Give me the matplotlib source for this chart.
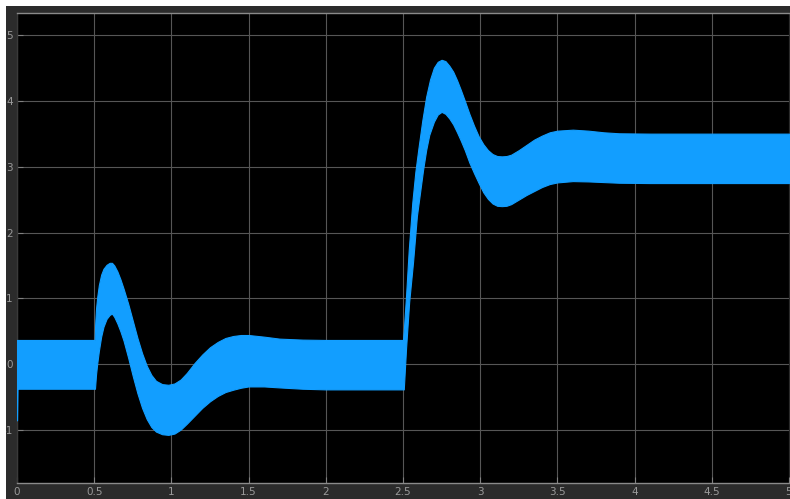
import matplotlib
matplotlib.use("Agg")
import matplotlib.pyplot as plt
import numpy as np
from matplotlib.patches import Rectangle

# ── Envelope of the fast-switching signal ────────────────────────────────────
t_upper = [0.0, 0.503, 0.506, 0.512, 0.520, 0.530, 0.545, 0.560, 0.580, 0.600,
           0.615, 0.630, 0.650, 0.670, 0.690, 0.720, 0.750, 0.780, 0.810, 0.840,
           0.870, 0.900, 0.940, 0.980, 1.020, 1.060, 1.100, 1.150, 1.200, 1.250,
           1.300, 1.350, 1.400, 1.450, 1.500, 1.600, 1.700, 1.850, 2.000, 2.500,
           2.506, 2.520, 2.537, 2.560, 2.580, 2.600, 2.625, 2.650, 2.675, 2.700,
           2.725, 2.750, 2.775, 2.800, 2.825, 2.850, 2.875, 2.900, 2.930, 2.960,
           2.990, 3.020, 3.050, 3.080, 3.110, 3.140, 3.170, 3.200, 3.250, 3.300,
           3.350, 3.400, 3.450, 3.500, 3.600, 3.700, 3.800, 3.900, 4.100, 5.000]
v_upper = [0.37, 0.37, 0.60, 0.85, 1.03, 1.20, 1.36, 1.45, 1.51, 1.54,
           1.54, 1.50, 1.41, 1.29, 1.15, 0.92, 0.66, 0.40, 0.17, -0.02,
           -0.16, -0.25, -0.30, -0.31, -0.29, -0.23, -0.13, 0.02, 0.15, 0.26,
           0.34, 0.40, 0.43, 0.445, 0.445, 0.42, 0.39, 0.375, 0.37, 0.37,
           0.55, 1.05, 1.73, 2.45, 2.92, 3.28, 3.70, 4.06, 4.32, 4.50,
           4.59, 4.62, 4.60, 4.53, 4.44, 4.31, 4.16, 4.00, 3.80, 3.62,
           3.46, 3.34, 3.25, 3.19, 3.16, 3.155, 3.16, 3.18, 3.25, 3.33,
           3.41, 3.47, 3.52, 3.545, 3.56, 3.545, 3.52, 3.505, 3.50, 3.50]

t_lower = [0.0, 0.003, 0.505, 0.512, 0.520, 0.530, 0.545, 0.560, 0.580, 0.600,
           0.615, 0.630, 0.650, 0.670, 0.690, 0.720, 0.750, 0.780, 0.810, 0.840,
           0.870, 0.900, 0.940, 0.980, 1.020, 1.060, 1.100, 1.150, 1.200, 1.250,
           1.300, 1.350, 1.400, 1.450, 1.500, 1.600, 1.700, 1.850, 2.000, 2.505,
           2.520, 2.540, 2.565, 2.590, 2.610, 2.630, 2.650, 2.670, 2.700, 2.725,
           2.750, 2.775, 2.800, 2.825, 2.850, 2.875, 2.900, 2.930, 2.960, 2.990,
           3.020, 3.050, 3.080, 3.110, 3.140, 3.170, 3.200, 3.250, 3.300, 3.350,
           3.400, 3.450, 3.500, 3.600, 3.700, 3.800, 3.900, 4.100, 5.000]
v_lower = [-0.85, -0.37, -0.37, -0.15, 0.02, 0.20, 0.42, 0.57, 0.69, 0.75,
           0.77, 0.72, 0.62, 0.50, 0.36, 0.10, -0.18, -0.44, -0.66, -0.83,
           -0.95, -1.02, -1.06, -1.07, -1.05, -0.99, -0.90, -0.78, -0.66, -0.56,
           -0.48, -0.42, -0.385, -0.355, -0.335, -0.335, -0.35, -0.37, -0.38, -0.38,
           0.25, 0.95, 1.55, 2.25, 2.60, 2.95, 3.25, 3.48, 3.68, 3.79,
           3.83, 3.80, 3.73, 3.64, 3.52, 3.39, 3.25, 3.06, 2.90, 2.75,
           2.61, 2.51, 2.44, 2.405, 2.40, 2.405, 2.43, 2.50, 2.57, 2.63,
           2.69, 2.735, 2.76, 2.78, 2.775, 2.765, 2.755, 2.75, 2.75]

x_ticks = [0, 0.5, 1, 1.5, 2, 2.5, 3, 3.5, 4, 4.5, 5]
x_labels = ["0", "0.5", "1", "1.5", "2", "2.5", "3", "3.5", "4", "4.5", "5"]
y_ticks = [-1, 0, 1, 2, 3, 4, 5]
y_labels = ["-1", "0", "1", "2", "3", "4", "5"]

TRACE = "#129eff"
FRAME_BG = "#2b2b2b"
GRID = "#565656"
TEXT = "#9a9a9a"

fig = plt.figure(figsize=(7.9, 4.99), dpi=100, facecolor=FRAME_BG)
# screenshot has a thin white strip on the left and top edges
fig.patches.append(Rectangle((0, 0), 6 / 790, 1, transform=fig.transFigure,
                             facecolor="white", edgecolor="none", zorder=0))
fig.patches.append(Rectangle((0, 493 / 499), 1, 6 / 499, transform=fig.transFigure,
                             facecolor="white", edgecolor="none", zorder=0))

ax = fig.add_axes([17 / 790, 16 / 499, 772 / 790, 470 / 499])
ax.set_facecolor("black")

# merge the two envelopes onto a shared time base for the fill
t_all = sorted(set(t_upper) | set(t_lower))
up = np.interp(t_all, t_upper, v_upper)
lo = np.interp(t_all, t_lower, v_lower)
ax.fill_between(t_all, lo, up, color=TRACE, lw=0.8, edgecolor=TRACE, zorder=3)

ax.set_xlim(0, 5)
ax.set_ylim(-1.8, 5.33)
ax.set_xticks(x_ticks)
ax.set_xticklabels(x_labels)
ax.set_yticks(y_ticks)
ax.set_yticklabels(y_labels)
ax.grid(True, color=GRID, lw=0.8, zorder=1)
ax.tick_params(direction="in", length=4, color="#808080", labelcolor=TEXT,
               labelsize=7.5, pad=3)
for name, sp in ax.spines.items():
    sp.set_color("#8a8a8a")
    sp.set_linewidth(1.0)
ax.spines["left"].set_color("#3a3a3a")
ax.spines["right"].set_visible(False)

fig.savefig("out.png", dpi=100, facecolor=fig.get_facecolor())
